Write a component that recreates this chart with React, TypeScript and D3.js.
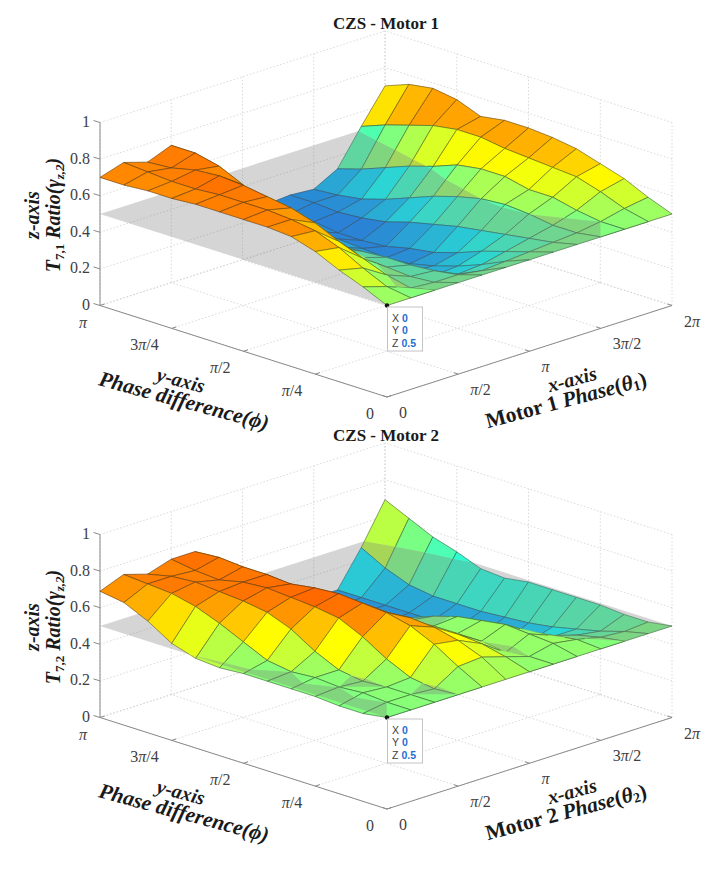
import * as d3 from "d3";

const PI = Math.PI;

// sample grid: motor phase (x) and phase difference (y)
const thetaGrid = [0, 0.5236, 1.0472, 1.5708, 2.0944, 2.618, 3.1416, 3.6652, 4.1888, 4.7124, 5.236, 5.7596, 6.2832];
const phiGrid = [0, 0.2618, 0.5236, 0.7854, 1.0472, 1.309, 1.5708, 1.8326, 2.0944, 2.3562, 2.618, 2.8798, 3.1416];

const zTicks = [0, 0.2, 0.4, 0.6, 0.8, 1];
const zTickLabels = ["0", "0.2", "0.4", "0.6", "0.8", "1"];
const thetaTicks = [0, PI / 2, PI, 1.5 * PI, 2 * PI];
const thetaTickLabels = ["0", "π/2", "π", "3π/2", "2π"];
const phiTicks = [0, PI / 4, PI / 2, 0.75 * PI, PI];
const phiTickLabels = ["0", "π/4", "π/2", "3π/4", "π"];

// gray reference plane
const referenceLevel = 0.5;

// rows = phase difference index, columns = motor phase index
const motor1Ratio = [
  [0.5, 0.5, 0.5, 0.5, 0.5, 0.5, 0.5, 0.5, 0.5, 0.5, 0.5, 0.5, 0.5],
  [0.56, 0.52, 0.47, 0.46, 0.46, 0.44, 0.45, 0.46, 0.47, 0.48, 0.5, 0.53, 0.55],
  [0.61, 0.58, 0.5, 0.45, 0.44, 0.38, 0.39, 0.42, 0.45, 0.48, 0.52, 0.58, 0.61],
  [0.67, 0.65, 0.55, 0.46, 0.43, 0.33, 0.34, 0.38, 0.43, 0.5, 0.55, 0.62, 0.65],
  [0.71, 0.7, 0.6, 0.47, 0.43, 0.31, 0.3, 0.33, 0.41, 0.51, 0.55, 0.63, 0.69],
  [0.72, 0.72, 0.66, 0.48, 0.42, 0.31, 0.27, 0.29, 0.39, 0.5, 0.58, 0.64, 0.71],
  [0.72, 0.73, 0.7, 0.5, 0.41, 0.31, 0.26, 0.27, 0.36, 0.47, 0.58, 0.65, 0.72],
  [0.72, 0.73, 0.72, 0.54, 0.42, 0.32, 0.27, 0.24, 0.33, 0.43, 0.56, 0.67, 0.72],
  [0.72, 0.73, 0.74, 0.58, 0.44, 0.33, 0.28, 0.23, 0.29, 0.38, 0.51, 0.67, 0.7],
  [0.71, 0.72, 0.75, 0.66, 0.47, 0.35, 0.28, 0.23, 0.27, 0.33, 0.47, 0.65, 0.75],
  [0.71, 0.72, 0.74, 0.72, 0.52, 0.38, 0.3, 0.25, 0.26, 0.29, 0.42, 0.61, 0.77],
  [0.7, 0.73, 0.71, 0.75, 0.58, 0.42, 0.31, 0.25, 0.27, 0.27, 0.37, 0.57, 0.75],
  [0.7, 0.74, 0.7, 0.75, 0.64, 0.45, 0.3, 0.26, 0.27, 0.26, 0.33, 0.52, 0.7],
];

const motor2Ratio = [
  [0.5, 0.5, 0.5, 0.5, 0.5, 0.5, 0.5, 0.5, 0.5, 0.5, 0.5, 0.5, 0.5],
  [0.48, 0.5, 0.5, 0.49, 0.57, 0.58, 0.54, 0.5, 0.53, 0.51, 0.48, 0.47, 0.48],
  [0.48, 0.51, 0.5, 0.51, 0.65, 0.63, 0.57, 0.48, 0.54, 0.49, 0.45, 0.43, 0.48],
  [0.49, 0.5, 0.49, 0.57, 0.71, 0.66, 0.58, 0.5, 0.55, 0.47, 0.4, 0.4, 0.49],
  [0.49, 0.51, 0.51, 0.65, 0.74, 0.67, 0.56, 0.5, 0.53, 0.43, 0.33, 0.37, 0.49],
  [0.49, 0.5, 0.57, 0.71, 0.75, 0.66, 0.55, 0.5, 0.51, 0.38, 0.29, 0.35, 0.49],
  [0.49, 0.52, 0.65, 0.73, 0.76, 0.63, 0.54, 0.49, 0.47, 0.29, 0.28, 0.34, 0.49],
  [0.48, 0.58, 0.7, 0.74, 0.75, 0.64, 0.54, 0.46, 0.42, 0.27, 0.28, 0.33, 0.47],
  [0.49, 0.64, 0.72, 0.75, 0.73, 0.64, 0.52, 0.43, 0.32, 0.27, 0.28, 0.33, 0.48],
  [0.53, 0.69, 0.73, 0.74, 0.74, 0.64, 0.49, 0.38, 0.3, 0.27, 0.28, 0.33, 0.53],
  [0.61, 0.72, 0.74, 0.71, 0.74, 0.62, 0.46, 0.28, 0.3, 0.28, 0.28, 0.35, 0.57],
  [0.67, 0.73, 0.73, 0.72, 0.75, 0.6, 0.41, 0.27, 0.31, 0.27, 0.28, 0.4, 0.63],
  [0.69, 0.74, 0.7, 0.74, 0.74, 0.57, 0.31, 0.27, 0.31, 0.28, 0.28, 0.47, 0.69],
];

const SERIF = "'Liberation Serif', 'Times New Roman', serif";
const SANS = "'Liberation Sans', Arial, sans-serif";

// jet-like colormap over [0, 1]
const jet = d3
  .scaleLinear<string>()
  .domain([0, 0.125, 0.375, 0.61, 0.84, 1])
  .range(["#00008f", "#0000ff", "#00ffff", "#ffff00", "#ff0000", "#800000"])
  .clamp(true);

type V = { t: number; p: number; z: number; cut: boolean };
type Face = { d: string; edges: string; fill: string; depth: number };

// keep the part of a quad above (or below) the reference plane
function clipPoly(poly: V[], up: boolean): V[] {
  const inside = (v: V) => (up ? v.z >= referenceLevel : v.z <= referenceLevel);
  const out: V[] = [];
  poly.forEach((a, k) => {
    const b = poly[(k + 1) % poly.length];
    const ia = inside(a);
    const ib = inside(b);
    if (ia) out.push(a);
    if (ia !== ib) {
      const s = (referenceLevel - a.z) / (b.z - a.z);
      out.push({ t: a.t + s * (b.t - a.t), p: a.p + s * (b.p - a.p), z: referenceLevel, cut: true });
    }
  });
  return out;
}

function PiText({ s }: { s: string }) {
  const parts = s.split("π");
  return (
    <>
      {parts.map((part, k) => (
        <tspan key={k}>
          {part}
          {k < parts.length - 1 && <tspan fontStyle="italic">π</tspan>}
        </tspan>
      ))}
    </>
  );
}

interface PanelProps {
  top: number;
  title: string;
  ratio: number[][];
  motorNo: string;
}

function Panel({ top, title, ratio, motorNo }: PanelProps) {
  const ox = 387;
  const oy = 397 + top;
  const xRight = d3.scaleLinear().domain([0, 2 * PI]).range([0, 285]);
  const xRise = d3.scaleLinear().domain([0, 2 * PI]).range([0, 91.5]);
  const yLeft = d3.scaleLinear().domain([0, PI]).range([0, 287]);
  const yRise = d3.scaleLinear().domain([0, PI]).range([0, 91.5]);
  const zRise = d3.scaleLinear().domain([0, 1]).range([0, 183]);

  const proj = (t: number, p: number, z: number): [number, number] => [
    ox + xRight(t) - yLeft(p),
    oy - xRise(t) - yRise(p) - zRise(z),
  ];
  const depth = (v: V) => v.t / (2 * PI) + v.p / PI - 0.225 * v.z;
  const line = (a: [number, number], b: [number, number]) => `M${a[0]},${a[1]}L${b[0]},${b[1]}`;

  // surface faces split by the plane, painter's order
  const below: Face[] = [];
  const above: Face[] = [];
  for (let j = 0; j < phiGrid.length - 1; j++) {
    for (let i = 0; i < thetaGrid.length - 1; i++) {
      const quad: V[] = [
        { t: thetaGrid[i], p: phiGrid[j], z: ratio[j][i], cut: false },
        { t: thetaGrid[i + 1], p: phiGrid[j], z: ratio[j][i + 1], cut: false },
        { t: thetaGrid[i + 1], p: phiGrid[j + 1], z: ratio[j + 1][i + 1], cut: false },
        { t: thetaGrid[i], p: phiGrid[j + 1], z: ratio[j + 1][i], cut: false },
      ];
      const fill = jet(d3.mean(quad, (q) => q.z)!);
      [false, true].forEach((up) => {
        const poly = clipPoly(quad, up);
        if (poly.length < 3) return;
        const pts = poly.map((v) => proj(v.t, v.p, v.z));
        if (Math.abs(d3.polygonArea(pts)) < 0.05) return;
        let edges = "";
        poly.forEach((a, k) => {
          const b = poly[(k + 1) % poly.length];
          if (a.cut && b.cut) return;
          edges += line(pts[k], pts[(k + 1) % pts.length]);
        });
        (up ? above : below).push({
          d: "M" + pts.join("L") + "Z",
          edges,
          fill,
          depth: d3.mean(poly, depth)!,
        });
      });
    }
  }
  below.sort((a, b) => b.depth - a.depth);
  above.sort((a, b) => b.depth - a.depth);

  const drawFaces = (faces: Face[], key: string) =>
    faces.map((f, k) => (
      <g key={key + k}>
        <path d={f.d} fill={f.fill} stroke={f.fill} strokeWidth={0.4} />
        <path d={f.edges} fill="none" stroke="#1a1a1a" strokeOpacity={0.65} strokeWidth={0.65} />
      </g>
    ));

  // dotted grid on floor and the two back walls
  let grid = "";
  thetaTicks.forEach((t) => {
    grid += line(proj(t, 0, 0), proj(t, PI, 0));
    grid += line(proj(t, PI, 0), proj(t, PI, 1));
  });
  phiTicks.forEach((p) => {
    grid += line(proj(0, p, 0), proj(2 * PI, p, 0));
    grid += line(proj(2 * PI, p, 0), proj(2 * PI, p, 1));
  });
  zTicks.forEach((z) => {
    grid += line(proj(0, PI, z), proj(2 * PI, PI, z));
    grid += line(proj(2 * PI, 0, z), proj(2 * PI, PI, z));
  });

  const plane = [
    proj(0, 0, referenceLevel),
    proj(2 * PI, 0, referenceLevel),
    proj(2 * PI, PI, referenceLevel),
    proj(0, PI, referenceLevel),
  ];
  const tip = proj(0, 0, referenceLevel);

  const axisColor = "#8a8a8a";
  const tickColor = "#404040";
  const rot = 15;

  return (
    <g>
      <path d={grid} fill="none" stroke="#cfcfcf" strokeWidth={0.8} strokeDasharray="1.5 2" />

      {/* axis lines */}
      <path
        d={
          line(proj(0, PI, 0), proj(0, PI, 1)) +
          line(proj(0, PI, 0), proj(0, 0, 0)) +
          line(proj(0, 0, 0), proj(2 * PI, 0, 0))
        }
        stroke={axisColor}
        strokeWidth={1}
        fill="none"
      />
      {zTicks.map((z, k) => {
        const [x, y] = proj(0, PI, z);
        return (
          <g key={"z" + k}>
            <line x1={x} y1={y} x2={x - 6.5} y2={y - 2} stroke={axisColor} />
            <text x={x - 10} y={y - 1} textAnchor="end" dominantBaseline="central" fontFamily={SERIF} fontSize={16} fill={tickColor}>
              {zTickLabels[k]}
            </text>
          </g>
        );
      })}
      {phiTicks.map((p, k) => {
        const [x, y] = proj(0, p, 0);
        return (
          <g key={"p" + k}>
            <line x1={x} y1={y} x2={x + 4.5} y2={y - 1.5} stroke={axisColor} />
            <text x={x - 13} y={y + 16} textAnchor="end" dominantBaseline="central" fontFamily={SERIF} fontSize={16} fill={tickColor}>
              <PiText s={phiTickLabels[k]} />
            </text>
          </g>
        );
      })}
      {thetaTicks.map((t, k) => {
        const [x, y] = proj(t, 0, 0);
        return (
          <g key={"t" + k}>
            <line x1={x} y1={y} x2={x - 4.5} y2={y - 1.5} stroke={axisColor} />
            <text x={x + 12} y={y + 15} textAnchor="start" dominantBaseline="central" fontFamily={SERIF} fontSize={16} fill={tickColor}>
              <PiText s={thetaTickLabels[k]} />
            </text>
          </g>
        );
      })}

      {/* surface below plane, translucent plane, surface above plane */}
      {drawFaces(below, "b")}
      <path d={"M" + plane.join("L") + "Z"} fill="#7f7f7f" fillOpacity={0.33} />
      {drawFaces(above, "a")}

      {/* data tip */}
      <circle cx={tip[0]} cy={tip[1]} r={2.2} fill="#111" />
      <rect x={tip[0] + 0.5} y={tip[1] + 1.5} width={35} height={44} fill="#fff" stroke="#c4c4c4" strokeWidth={1} />
      {["X", "Y", "Z"].map((lab, k) => (
        <text key={lab} x={tip[0] + 5} y={tip[1] + 12 + k * 12.5} fontFamily={SANS} fontSize={10.5} fill="#404040" dominantBaseline="central">
          {lab}
          <tspan dx={3} fill="#1f6fd1" fontWeight="bold">
            {k < 2 ? "0" : String(referenceLevel)}
          </tspan>
        </text>
      ))}

      {/* titles */}
      <text x={386} y={29 + top} textAnchor="middle" fontFamily={SERIF} fontSize={17} fontWeight="bold" fill="#1a1a1a">
        {title}
      </text>
      <g fontFamily={SERIF} fontWeight="bold" fontSize={20} fill="#1a1a1a">
        <text transform={`translate(39,${215 + top}) rotate(-90)`} textAnchor="middle" fontStyle="italic">
          z-axis
        </text>
        <text transform={`translate(60,${215 + top}) rotate(-90)`} textAnchor="middle" fontStyle="italic">
          T
          <tspan fontSize={13} dy={4} fontStyle="normal">
            7,{motorNo}
          </tspan>
          <tspan dy={-4}> Ratio(γ</tspan>
          <tspan fontSize={13} dy={4}>
            z,2
          </tspan>
          <tspan dy={-4}>)</tspan>
        </text>
        <text transform={`translate(181,${380 + top}) rotate(${rot})`} textAnchor="middle" dominantBaseline="central" fontStyle="italic">
          y-axis
        </text>
        <text transform={`translate(184,${401 + top}) rotate(${rot})`} textAnchor="middle" dominantBaseline="central" fontStyle="italic" fontSize={21.5}>
          Phase difference(ϕ)
        </text>
        <text transform={`translate(572,${379 + top}) rotate(${-rot})`} textAnchor="middle" dominantBaseline="central" fontStyle="italic">
          x-axis
        </text>
        <text transform={`translate(566,${400 + top}) rotate(${-rot})`} textAnchor="middle" dominantBaseline="central" fontSize={21.5}>
          Motor {motorNo} <tspan fontStyle="italic">Phase</tspan>(<tspan fontStyle="italic">θ</tspan>
          <tspan fontSize={14} dy={4}>
            {motorNo}
          </tspan>
          <tspan dy={-4}>)</tspan>
        </text>
      </g>
    </g>
  );
}

export default function App() {
  return (
    <svg
      width={718}
      height={872}
      viewBox="0 0 718 872"
      style={{ position: "absolute", left: 0, top: 0, background: "#fff" }}
    >
      <Panel top={0} title="CZS - Motor 1" ratio={motor1Ratio} motorNo="1" />
      <Panel top={412} title="CZS - Motor 2" ratio={motor2Ratio} motorNo="2" />
    </svg>
  );
}
